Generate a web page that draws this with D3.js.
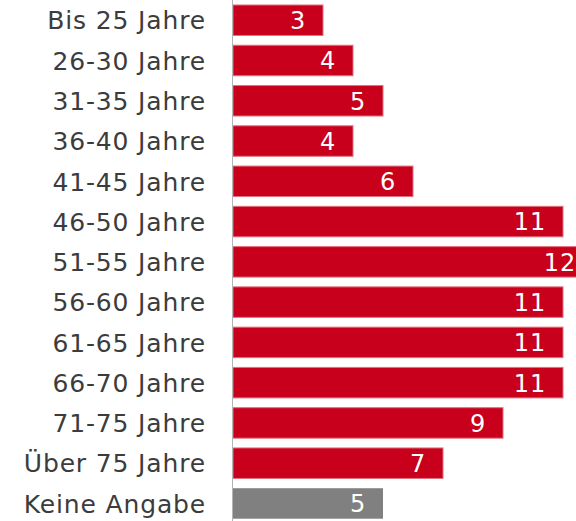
<!DOCTYPE html>
<html>
<head>
<meta charset="utf-8">
<script src="https://cdn.jsdelivr.net/npm/d3@7"></script>
<style>
  body { margin: 0; background: #fff; }
  svg { display: block; font-family: "DejaVu Sans", Verdana, sans-serif; }
</style>
</head>
<body>
<div id="chart"></div>
<script>
// Altersgruppen und Anzahl
const categories = ["Bis 25 Jahre", "26-30 Jahre", "31-35 Jahre", "36-40 Jahre", "41-45 Jahre",
  "46-50 Jahre", "51-55 Jahre", "56-60 Jahre", "61-65 Jahre", "66-70 Jahre",
  "71-75 Jahre", "Über 75 Jahre", "Keine Angabe"];
const values = [3, 4, 5, 4, 6, 11, 12, 11, 11, 11, 9, 7, 5];
const noAnswer = "Keine Angabe";

const width = 576;
const height = 521;
const axisX = 232.5;

const svg = d3.select("#chart").append("svg")
    .attr("width", width)
    .attr("height", height);

const x = d3.scaleLinear()
    .domain([0, 1])
    .range([233, 263]);

const y = d3.scaleBand()
    .domain(categories)
    .range([0.1, 523.6])
    .paddingInner(0.243)
    .paddingOuter(0.1215);

const rows = categories.map((c, i) => ({ cat: c, value: values[i] }));

// Balken
svg.append("g")
    .selectAll("rect")
    .data(rows)
    .enter().append("rect")
    .attr("x", x(0))
    .attr("y", d => y(d.cat))
    .attr("width", d => x(d.value) - x(0))
    .attr("height", y.bandwidth())
    .attr("fill", d => d.cat === noAnswer ? "#808080" : "#c8001b")
    .attr("stroke", d => d.cat === noAnswer ? "none" : "#e2707e")
    .attr("stroke-width", 1);

// Werte in den Balken
svg.append("g")
    .selectAll("text")
    .data(rows)
    .enter().append("text")
    .attr("x", d => x(d.value) - 17)
    .attr("y", d => y(d.cat) + y.bandwidth() / 2)
    .attr("dy", "0.37em")
    .attr("text-anchor", "end")
    .attr("fill", "#fff")
    .style("font-size", "24px")
    .style("letter-spacing", "0.8px")
    .text(d => d.value);

// Kategorien links
svg.append("g")
    .selectAll("text")
    .data(rows)
    .enter().append("text")
    .attr("x", 206)
    .attr("y", d => y(d.cat) + y.bandwidth() / 2)
    .attr("dy", "0.37em")
    .attr("text-anchor", "end")
    .attr("fill", "#3c3c3c")
    .style("font-size", "25px")
    .style("letter-spacing", "0.85px")
    .text(d => d.cat);

// Achsenlinie
svg.append("line")
    .attr("x1", axisX)
    .attr("x2", axisX)
    .attr("y1", 0)
    .attr("y2", height)
    .attr("stroke", "#b4b4b4")
    .attr("stroke-width", 1);
</script>
</body>
</html>
